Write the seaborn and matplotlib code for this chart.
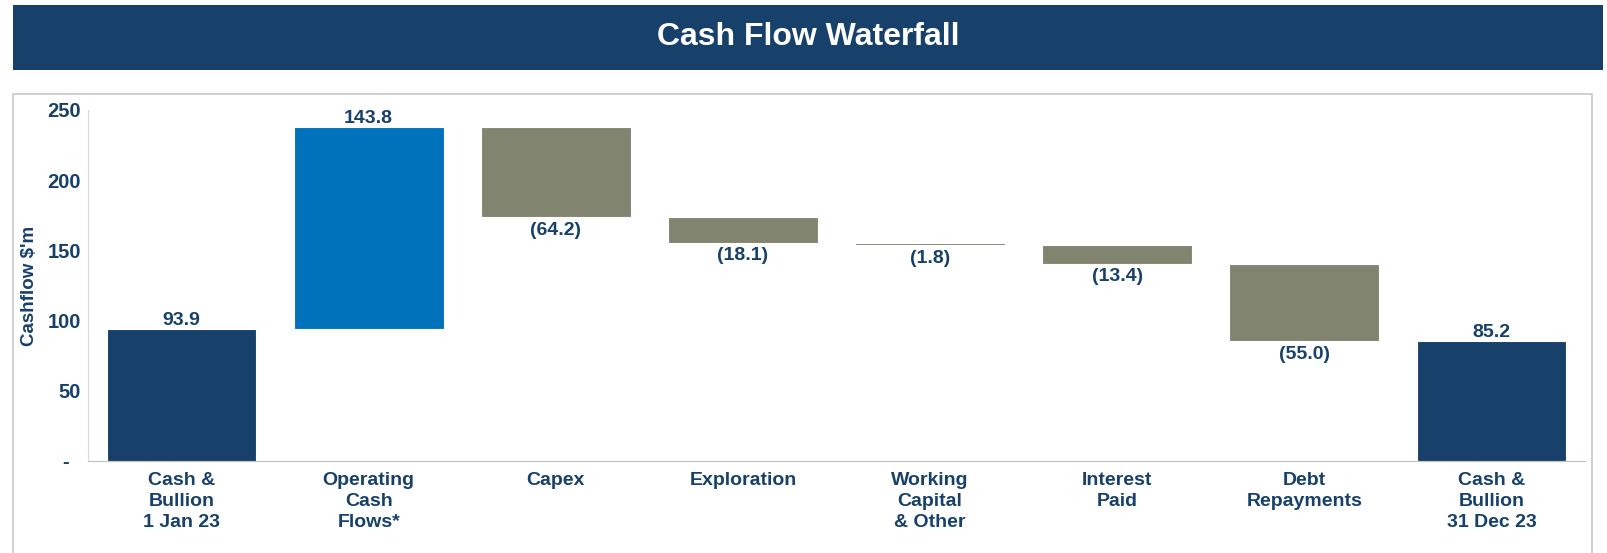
import pandas as pd
import matplotlib.pyplot as plt
import seaborn as sns
from matplotlib.patches import Rectangle

# data
categories = ["Cash &\nBullion\n1 Jan 23", "Operating\nCash\nFlows*", "Capex", "Exploration",
              "Working\nCapital\n& Other", "Interest\nPaid", "Debt\nRepayments", "Cash &\nBullion\n31 Dec 23"]
changes = [93.9, 143.8, -64.2, -18.1, -1.8, -13.4, -55.0, 85.2]
kinds = ["total", "up", "down", "down", "down", "down", "down", "total"]

navy = "#17406A"
colour_map = {"total": navy, "up": "#0072BB", "down": "#818570"}

# build the waterfall: bottom and height of each floating bar
bottoms, heights = [], []
running = 0.0
for val, kind in zip(changes, kinds):
    if kind == "total":
        bottoms.append(0.0)
        heights.append(val)
        running = val
    elif val >= 0:
        bottoms.append(running)
        heights.append(val)
        running += val
    else:
        running += val
        bottoms.append(running)
        heights.append(-val)

df = pd.DataFrame({"category": categories, "height": heights, "bottom": bottoms,
                   "change": changes, "kind": kinds})

sns.set_style("white")
plt.rcParams['font.family'] = ['Liberation Sans', 'DejaVu Sans']
plt.rcParams['font.weight'] = 'bold'

W, H = 1608, 553
fig = plt.figure(figsize=(W / 100, H / 100), dpi=100)

# title banner and chart frame
fig.patches.append(Rectangle((13 / W, 1 - 70 / H), (1603 - 13) / W, 65 / H,
                             transform=fig.transFigure, facecolor=navy, edgecolor="none", zorder=0))
fig.text(808 / W, 1 - 45 / H, "Cash Flow Waterfall", color="white", fontsize=23,
         fontweight="bold", ha="center", va="baseline")
fig.patches.append(Rectangle((13 / W, -0.05), (1592 - 13) / W, 1 - 94 / H + 0.05,
                             transform=fig.transFigure, facecolor="none", edgecolor="#C8C8C8",
                             linewidth=1.2, zorder=0))

ax = fig.add_axes([88 / W, 1 - 461 / H, (1585 - 88) / W, (461 - 110) / H])
palette = [colour_map[k] for k in kinds]
sns.barplot(data=df, x="category", y="height", hue="category", palette=palette,
            legend=False, width=0.8, edgecolor="white", linewidth=0.8, saturation=1, ax=ax)

# float each bar up to its waterfall bottom
for patch, b in zip(ax.patches, bottoms):
    patch.set_y(b)

for i, row in df.iterrows():
    if row["kind"] == "down":
        ax.annotate(f"({abs(row['change']):.1f})", (i, row["bottom"]), xytext=(0, -3),
                    textcoords="offset points", ha="center", va="top",
                    fontsize=14, fontweight="bold", color=navy)
    else:
        ax.annotate(f"{row['change']:.1f}", (i, row["bottom"] + row["height"]), xytext=(0, 0),
                    textcoords="offset points", ha="center", va="bottom",
                    fontsize=14, fontweight="bold", color=navy)

ax.set_ylim(0, 250)
ax.set_xlim(-0.5, len(categories) - 0.5)
ax.set_yticks([0, 50, 100, 150, 200, 250])
ax.set_yticklabels(["-  ", "50", "100", "150", "200", "250"])
ax.tick_params(axis="y", length=0, pad=5, labelsize=14.5, labelcolor=navy)
ax.tick_params(axis="x", length=0, pad=8, labelsize=14, labelcolor=navy)
for lab in ax.get_yticklabels():
    lab.set_fontweight("bold")
for lab in ax.get_xticklabels():
    lab.set_fontweight("bold")
    lab.set_linespacing(1.3)
ax.set_xlabel("")
ax.set_ylabel("Cashflow $'m", fontsize=13.5, fontweight="bold", color=navy)
ax.yaxis.set_label_coords(-0.0334, 0.5)

for side in ["top", "right"]:
    ax.spines[side].set_visible(False)
ax.spines["left"].set_color("#D9D9D9")
ax.spines["bottom"].set_color("#BFBFBF")
ax.patch.set_alpha(0)

fig.savefig("out.png", dpi=100)
